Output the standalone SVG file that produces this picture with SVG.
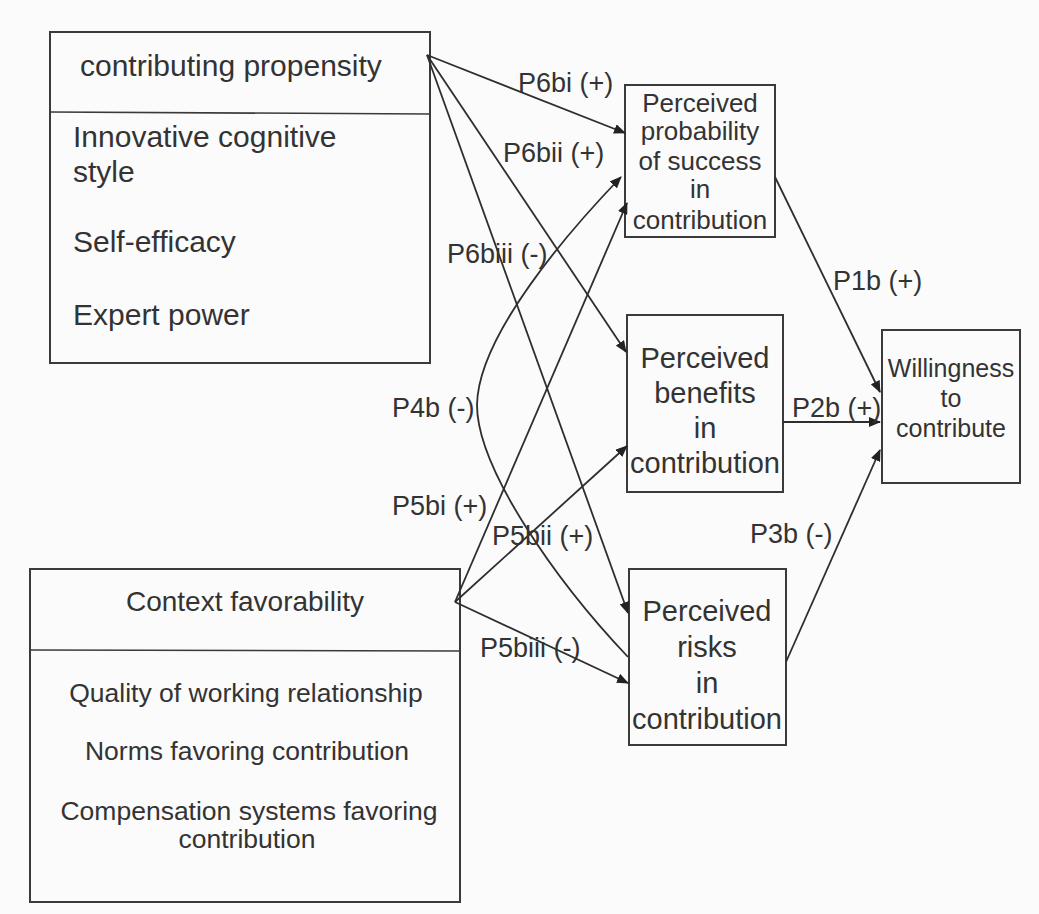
<svg xmlns="http://www.w3.org/2000/svg" width="1039" height="914" viewBox="0 0 1039 914">
<style>
.box{fill:none;stroke:#3a3a3a;stroke-width:2}
.div{stroke:#3a3a3a;stroke-width:1.6}
.t{font-family:"Liberation Sans",Arial,sans-serif;fill:#333}
.c{text-anchor:middle}
.ln{fill:none;stroke:#2e2e2e;stroke-width:1.8}
.arr{marker-end:url(#ah)}
</style>
<defs>
<marker id="ah" markerUnits="userSpaceOnUse" markerWidth="12" markerHeight="10" refX="11" refY="5" orient="auto" viewBox="0 0 12 10">
<path d="M0,0 L12,5 L0,10 z" fill="#222"/>
</marker>
</defs>
<rect x="0" y="0" width="1039" height="914" fill="#fbfbfb"/>

<g id="node-propensity">
<rect class="box" x="50" y="32" width="380" height="331"/>
<line class="div" x1="50" y1="112" x2="430" y2="114"/>
<text class="t" x="80" y="76" font-size="30">contributing propensity</text>
<text class="t" x="73" y="147" font-size="30">Innovative cognitive</text>
<text class="t" x="73" y="182" font-size="30">style</text>
<text class="t" x="73" y="252" font-size="30">Self-efficacy</text>
<text class="t" x="73" y="325" font-size="30">Expert power</text>
</g>

<g id="node-context">
<rect class="box" x="30" y="569" width="430" height="333"/>
<line class="div" x1="30" y1="650" x2="460" y2="651"/>
<text class="t c" x="245" y="611" font-size="28">Context favorability</text>
<text class="t c" x="246" y="702" font-size="26.5">Quality of working relationship</text>
<text class="t c" x="247" y="760" font-size="26.5">Norms favoring contribution</text>
<text class="t c" x="249" y="820" font-size="26.5">Compensation systems favoring</text>
<text class="t c" x="247" y="848" font-size="26.5">contribution</text>
</g>

<g id="node-probability">
<rect class="box" x="625" y="85" width="150" height="152"/>
<g class="t c" font-size="26">
<text x="700" y="112">Perceived</text>
<text x="700" y="140">probability</text>
<text x="700" y="170">of success</text>
<text x="700" y="198">in</text>
<text x="700" y="229">contribution</text>
</g>
</g>

<g id="node-benefits">
<rect class="box" x="627" y="315" width="156" height="177"/>
<g class="t c" font-size="29">
<text x="705" y="368">Perceived</text>
<text x="705" y="403">benefits</text>
<text x="705" y="438">in</text>
<text x="705" y="473">contribution</text>
</g>
</g>

<g id="node-risks">
<rect class="box" x="629" y="569" width="157" height="176"/>
<g class="t c" font-size="29">
<text x="707" y="621">Perceived</text>
<text x="707" y="657">risks</text>
<text x="707" y="693">in</text>
<text x="707" y="729">contribution</text>
</g>
</g>

<g id="node-willingness">
<rect class="box" x="882" y="330" width="138" height="153"/>
<g class="t c" font-size="25">
<text x="951" y="377">Willingness</text>
<text x="951" y="407">to</text>
<text x="951" y="437">contribute</text>
</g>
</g>

<g id="connectors">
<line class="ln arr" x1="427" y1="55" x2="625" y2="133"/>
<line class="ln arr" x1="427" y1="55" x2="626" y2="352"/>
<line class="ln arr" x1="427" y1="55" x2="628" y2="613"/>
<path class="ln arr" d="M628,657 C555,580 477,468 477,405 C478,335 570,230 621,177"/>
<line class="ln arr" x1="455" y1="602" x2="627" y2="203"/>
<line class="ln arr" x1="455" y1="602" x2="627" y2="446"/>
<line class="ln arr" x1="455" y1="602" x2="628" y2="683"/>
<line class="ln arr" x1="775" y1="177" x2="880" y2="392"/>
<line class="ln arr" x1="783" y1="422" x2="880" y2="422"/>
<line class="ln arr" x1="786" y1="662" x2="880" y2="450"/>
</g>

<g id="labels" class="t" font-size="27">
<text x="518" y="92">P6bi (+)</text>
<text x="503" y="162">P6bii (+)</text>
<text x="447" y="263">P6biii (-)</text>
<text x="392" y="417">P4b (-)</text>
<text x="392" y="515">P5bi (+)</text>
<text x="492" y="545">P5bii (+)</text>
<text x="480" y="657">P5biii (-)</text>
<text x="833" y="290">P1b (+)</text>
<text x="792" y="417">P2b (+)</text>
<text x="750" y="543">P3b (-)</text>
</g>
</svg>
